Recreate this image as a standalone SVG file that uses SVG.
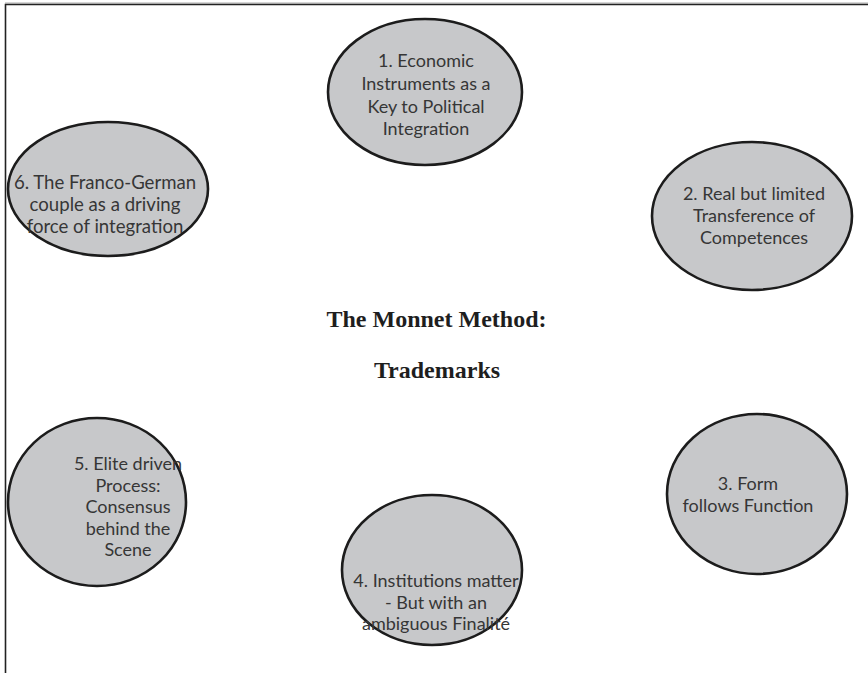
<svg xmlns="http://www.w3.org/2000/svg" width="868" height="673" viewBox="0 0 868 673">
<style>
.node ellipse{fill:#c7c8ca;stroke:#1c1c1c;stroke-width:2.6}
.node text{font-family:Lato,"Open Sans","Liberation Sans",sans-serif;font-size:18px;fill:#363636;text-anchor:middle}
#n6 text{font-size:18.6px}
.title{font-family:"Liberation Serif","Times New Roman",serif;font-size:24px;font-weight:bold;fill:#1e1e1e;text-anchor:middle}
</style>
<rect x="0" y="0" width="868" height="673" fill="#fff"/>
<g id="frame" fill="none">
<line x1="5" y1="3" x2="868" y2="3" stroke="#aaa" stroke-width="1"/>
<path d="M5.5,673 V4.5 H868" stroke="#222" stroke-width="1.6"/>
</g>
<g id="connectors"/>
<g id="n1" class="node">
<ellipse cx="425" cy="92" rx="97" ry="73"/>
<text x="426" y="67">1. Economic</text>
<text x="426" y="90">Instruments as a</text>
<text x="426" y="113">Key to Political</text>
<text x="426" y="135">Integration</text>
</g>
<g id="n2" class="node">
<ellipse cx="752" cy="216" rx="100" ry="74"/>
<text x="754" y="200">2. Real but limited</text>
<text x="754" y="222">Transference of</text>
<text x="754" y="244">Competences</text>
</g>
<g id="n3" class="node">
<ellipse cx="757" cy="494" rx="90" ry="80"/>
<text x="748" y="490">3. Form</text>
<text x="748" y="512">follows Function</text>
</g>
<g id="n4" class="node">
<ellipse cx="432" cy="570" rx="90" ry="75"/>
<text x="436" y="587">4. Institutions matter</text>
<text x="436" y="608.5">- But with an</text>
<text x="436" y="630">ambiguous Finalité</text>
</g>
<g id="n5" class="node">
<ellipse cx="97" cy="502" rx="89" ry="84"/>
<text x="128" y="470">5. Elite driven</text>
<text x="128" y="491.5">Process:</text>
<text x="128" y="513">Consensus</text>
<text x="128" y="534.5">behind the</text>
<text x="128" y="556">Scene</text>
</g>
<g id="n6" class="node">
<ellipse cx="108" cy="189" rx="100" ry="67"/>
<text x="105" y="189">6. The Franco-German</text>
<text x="105" y="211">couple as a driving</text>
<text x="105" y="233">force of integration</text>
</g>
<g id="title">
<text class="title" x="436.5" y="327">The Monnet Method:</text>
<text class="title" x="437" y="378">Trademarks</text>
</g>
</svg>
